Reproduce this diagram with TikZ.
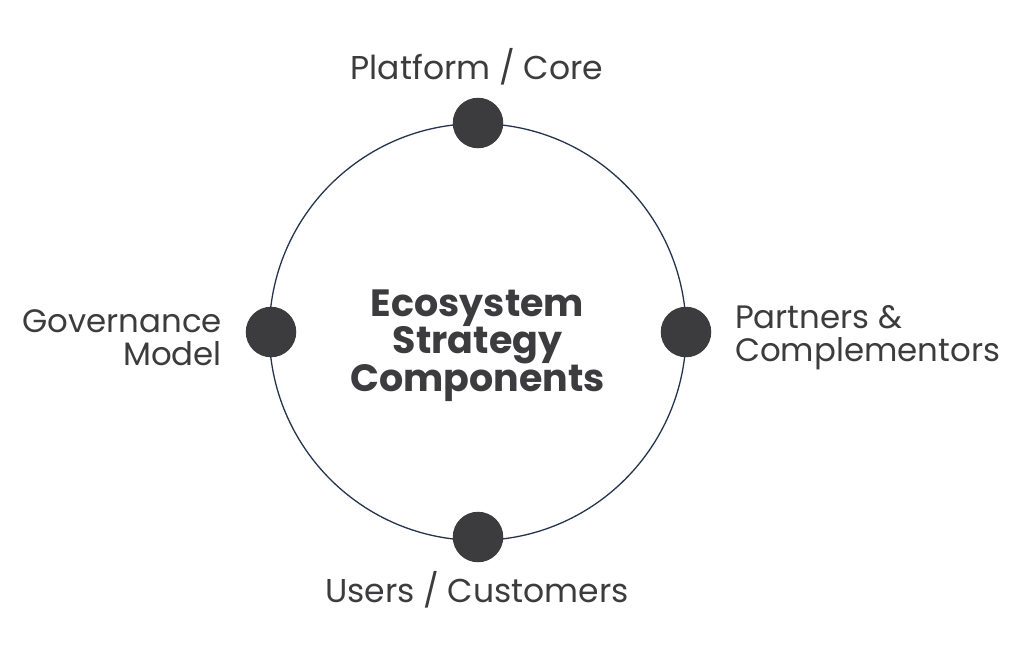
\documentclass[tikz,border=0pt]{standalone}
\usepackage{fontspec}
\setmainfont{Poppins}
\definecolor{dot}{HTML}{3C3C3E}
\definecolor{ring}{HTML}{24344E}
\tikzset{
  hub/.style={circle,fill=dot,minimum size=50.5pt,inner sep=0pt},
  lab/.style={text=dot,font=\fontsize{33}{33}\selectfont,inner sep=0pt},
  sidelab/.style={text=dot,font=\fontsize{32.4}{33}\selectfont,inner sep=0pt},
  centre/.style={text=dot,font=\fontsize{38}{37.5}\selectfont\bfseries,align=center,inner sep=0pt}
}
\begin{document}
\begin{tikzpicture}[x=1pt,y=-1pt]
\useasboundingbox (0,0) rectangle (1024,659);
\fill[white] (0,0) rectangle (1024,659);
\coordinate (c) at (477.7,332);
\draw[ring,line width=1.3pt] (c) circle (208.4);
\node[hub] (top) at (478,123) {};
\node[hub] (right) at (686,332) {};
\node[hub] (bottom) at (478,537) {};
\node[hub] (left) at (271,332) {};
\node[centre] (title) at (477.5,345.5) {Ecosystem\\Strategy\\Components};
\node[lab] (t1) at (477,67) {Platform / Core};
\node[sidelab,anchor=west,align=left] (t2) at (735,338) {Partners \&\\Complementors};
\node[lab] (t3) at (477,590) {Users / Customers};
\node[sidelab,anchor=east,align=right] (t4) at (222,338) {Governance\\Model};
\end{tikzpicture}
\end{document}
